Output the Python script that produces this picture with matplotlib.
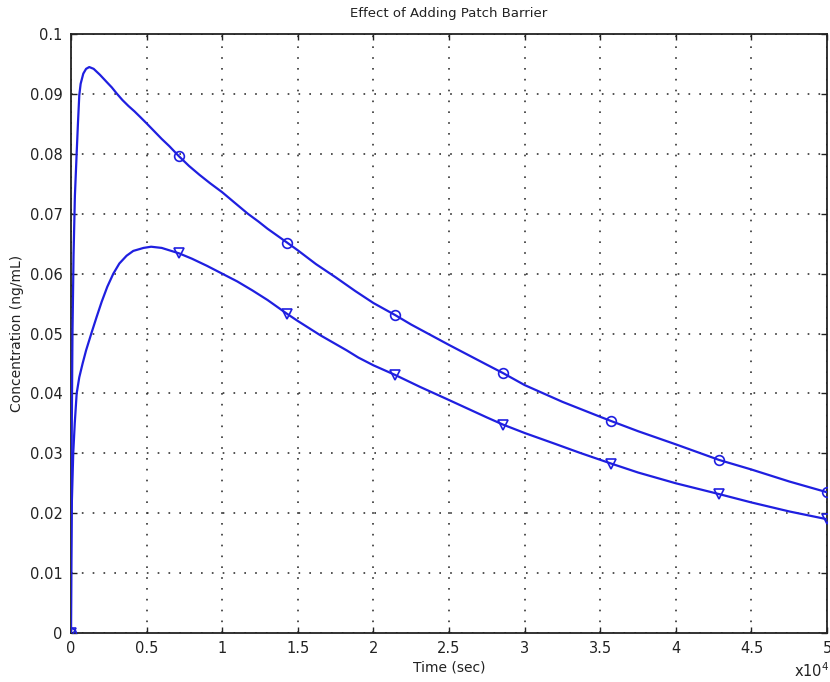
"""
Effect of Adding Patch Barrier - concentration vs time
"""
import matplotlib
matplotlib.use('Agg')
import matplotlib.pyplot as plt
from matplotlib.ticker import MultipleLocator, FuncFormatter

# Without barrier (circles)
t_upper = [0, 20, 50, 100, 170, 260, 375, 460, 550, 640, 815, 1000, 1210, 1500,
           1918, 2400, 2700, 3020, 3400, 3800, 4200, 4563, 5000, 5500, 6000, 6500,
           7143, 7800, 8500, 9200, 10000, 10800, 11700, 12400, 13000, 14286, 15000,
           16200, 17500, 18800, 20000, 21429, 22500, 25000, 27500, 28571, 30000,
           32500, 35000, 35714, 37500, 40000, 42857, 45000, 47500, 50000]
c_upper = [0, 0.015, 0.033, 0.050, 0.063, 0.073, 0.080, 0.085, 0.0898, 0.0917,
           0.0934, 0.0942, 0.0945, 0.0942, 0.0932, 0.0919, 0.0911, 0.0901, 0.0890,
           0.0880, 0.0871, 0.0862, 0.0851, 0.0838, 0.0825, 0.0813, 0.0796, 0.0780,
           0.0765, 0.0751, 0.0736, 0.0719, 0.0700, 0.0687, 0.0675, 0.0652, 0.0639,
           0.0616, 0.0594, 0.0571, 0.0551, 0.0531, 0.0515, 0.0481, 0.0448, 0.0434,
           0.0414, 0.0386, 0.0361, 0.0354, 0.0337, 0.0315, 0.0289, 0.0273, 0.0253,
           0.0235]

# With patch barrier (triangles)
t_lower = [0, 20, 60, 150, 250, 377, 550, 770, 1000, 1369, 1700, 2030, 2400,
           2800, 3200, 3680, 4120, 4800, 5300, 6000, 7143, 8000, 9000, 10000,
           11000, 12000, 13000, 14286, 15000, 16500, 18230, 19000, 20000, 21429,
           23080, 25000, 27500, 28571, 30000, 32000, 33640, 35714, 37500, 40000,
           42857, 45000, 47500, 50000]
c_lower = [0, 0.012, 0.022, 0.030, 0.035, 0.040, 0.0427, 0.0450, 0.0472, 0.0502,
           0.0528, 0.0553, 0.0578, 0.0600, 0.0617, 0.0630, 0.0638, 0.0643, 0.0645,
           0.0643, 0.0634, 0.0625, 0.0613, 0.0600, 0.0587, 0.0572, 0.0556, 0.0533,
           0.0521, 0.0497, 0.0472, 0.0460, 0.0447, 0.0431, 0.0411, 0.0389, 0.0360,
           0.0348, 0.0334, 0.0316, 0.0301, 0.0283, 0.0268, 0.0250, 0.0232, 0.0218,
           0.0203, 0.0190]

# Marker positions
t_marks = [0, 7143, 14286, 21429, 28571, 35714, 42857, 50000]
c_upper_marks = [0, 0.0796, 0.0652, 0.0531, 0.0434, 0.0354, 0.0289, 0.0235]
c_lower_marks = [0, 0.0634, 0.0533, 0.0431, 0.0348, 0.0283, 0.0232, 0.0190]

LINE_COLOR = '#1f1fe0'
TEXT_COLOR = '#222222'

fig = plt.figure(figsize=(8.3, 6.82), dpi=100)
ax = fig.add_axes([0.0855, 0.0718, 0.911, 0.8782])

ax.plot(t_upper, c_upper, color=LINE_COLOR, linewidth=1.6, zorder=3)
ax.plot(t_lower, c_lower, color=LINE_COLOR, linewidth=1.6, zorder=3)
ax.plot(t_marks, c_upper_marks, linestyle='none', marker='o', markersize=7,
        markerfacecolor='none', markeredgecolor=LINE_COLOR, markeredgewidth=1.2, zorder=4)
ax.plot(t_marks, c_lower_marks, linestyle='none', marker='v', markersize=7,
        markerfacecolor='none', markeredgecolor=LINE_COLOR, markeredgewidth=1.2, zorder=4)

ax.set_xlim(0, 50000)
ax.set_ylim(0, 0.1)
ax.xaxis.set_major_locator(MultipleLocator(5000))
ax.yaxis.set_major_locator(MultipleLocator(0.01))
ax.xaxis.set_major_formatter(FuncFormatter(lambda x, p: f'{x / 1e4:g}'))
ax.yaxis.set_major_formatter(FuncFormatter(lambda y, p: f'{round(y, 2):g}'))

# Dotted grid
ax.grid(True, linestyle=(0, (1, 5.5)), color='#333333', linewidth=1.2)

ax.tick_params(direction='in', length=4, width=1, labelsize=10.5,
               top=True, right=True, colors=TEXT_COLOR, pad=6)
for spine in ax.spines.values():
    spine.set_linewidth(1.3)
    spine.set_color(TEXT_COLOR)

ax.set_title('Effect of Adding Patch Barrier', fontsize=9.5, pad=12, color=TEXT_COLOR)
ax.set_xlabel('Time (sec)', fontsize=10, color=TEXT_COLOR, labelpad=3)
ax.set_ylabel('Concentration (ng/mL)', fontsize=10, color=TEXT_COLOR, labelpad=4)

fig.text(0.999, 0.003, r'x10$^{4}$', ha='right', va='bottom',
         fontsize=10.5, color=TEXT_COLOR)

fig.savefig('out.png', dpi=100, facecolor='white')
plt.close(fig)
